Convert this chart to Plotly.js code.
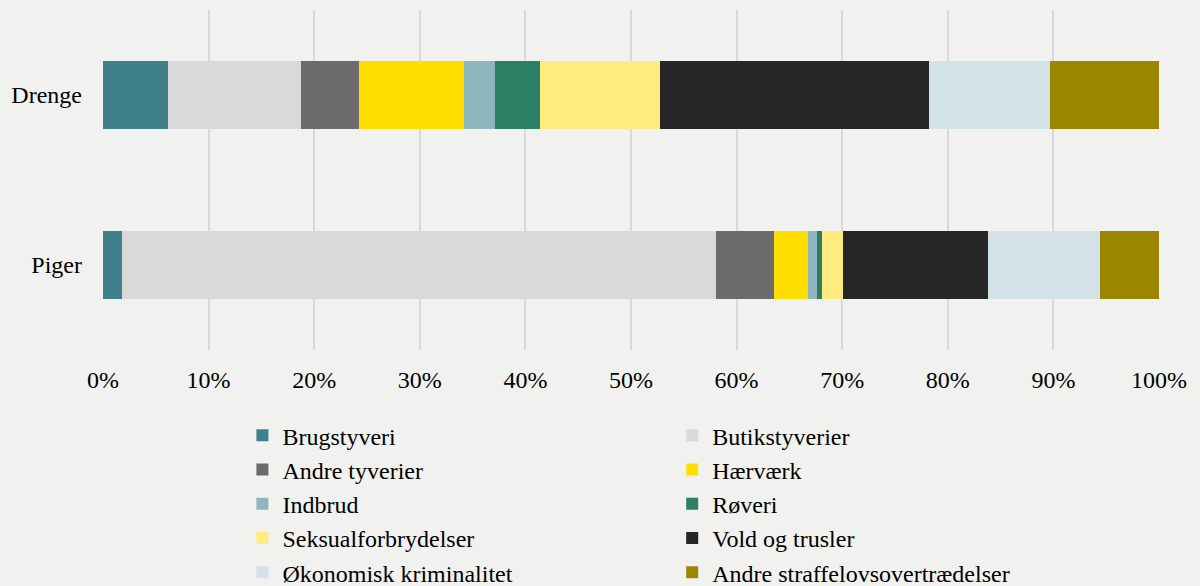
<!DOCTYPE html>
<html>
<head>
<meta charset="utf-8">
<script src="https://cdn.plot.ly/plotly-3.0.1.min.js"></script>
<style>html,body{margin:0;padding:0;background:#F1F1EF;}</style>
</head>
<body>
<div id="chart" style="width:1200px;height:586px;"></div>
<script>
const groups = ['Drenge', 'Piger'];
const seriesNames = ['Brugstyveri', 'Butikstyverier', 'Andre tyverier', 'Hærværk', 'Indbrud', 'Røveri', 'Seksualforbrydelser', 'Vold og trusler', 'Økonomisk kriminalitet', 'Andre straffelovsovertrædelser'];
const drengeValues = [6.2, 12.6, 5.5, 9.9, 3.0, 4.2, 11.4, 25.5, 11.5, 10.3];
const pigerValues = [1.8, 56.2, 5.5, 3.2, 0.85, 0.45, 2.0, 13.7, 10.6, 5.6];
const colors = ['#3F808A', '#D9D9D9', '#6B6B6B', '#FFDF00', '#8DB6BD', '#2B7F63', '#FFEB80', '#262626', '#D2E2E6', '#9C8600'];
const tickVals = [0, 10, 20, 30, 40, 50, 60, 70, 80, 90, 100];
const tickLabels = ['0%', '10%', '20%', '30%', '40%', '50%', '60%', '70%', '80%', '90%', '100%'];

const traces = seriesNames.map((name, i) => ({
  type: 'bar',
  orientation: 'h',
  name: name,
  y: groups,
  x: [drengeValues[i], pigerValues[i]],
  marker: {color: colors[i], line: {width: 0}},
  width: 0.4,
  legend: (i % 2 === 0) ? 'legend' : 'legend2',
  legendgroup: name,
  hoverinfo: 'x+name'
}));

const font = {family: '"Liberation Serif", "Times New Roman", serif', size: 24, color: '#000000'};

const legendCommon = {
  orientation: 'v',
  font: font,
  bgcolor: 'rgba(0,0,0,0)',
  tracegroupgap: 0,
  itemwidth: 30,
  yanchor: 'top',
  y: -0.186,
  xanchor: 'left'
};

const layout = {
  width: 1200,
  height: 586,
  paper_bgcolor: '#F1F1EF',
  plot_bgcolor: '#F1F1EF',
  font: font,
  barmode: 'stack',
  barnorm: 'percent',
  margin: {l: 103, r: 41, t: 10, b: 236, autoexpand: false},
  xaxis: {
    range: [0, 100],
    tickvals: tickVals,
    ticktext: tickLabels,
    showgrid: true,
    gridcolor: '#D9D9D9',
    gridwidth: 2,
    zeroline: false,
    showline: false,
    ticklabelstandoff: 13,
    tickfont: font,
    fixedrange: true
  },
  yaxis: {
    autorange: 'reversed',
    type: 'category',
    showgrid: false,
    zeroline: false,
    showline: false,
    ticklabelstandoff: 20,
    tickfont: font,
    fixedrange: true
  },
  legend: Object.assign({}, legendCommon, {x: 0.132}),
  legend2: Object.assign({}, legendCommon, {x: 0.539}),
  showlegend: true
};

Plotly.newPlot('chart', traces, layout, {displayModeBar: false, staticPlot: true});
</script>
</body>
</html>
